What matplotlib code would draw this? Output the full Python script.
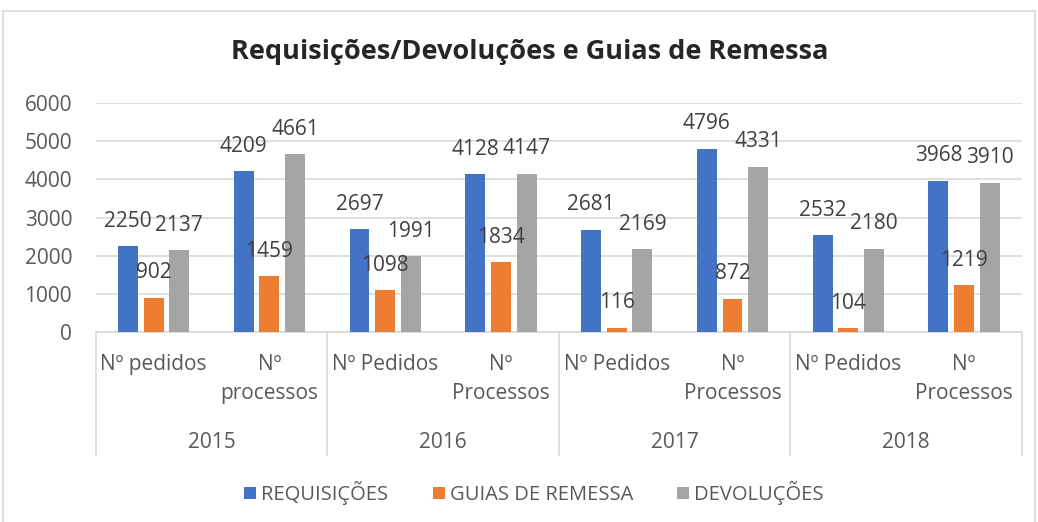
import numpy as np
import matplotlib
matplotlib.use('Agg')
import matplotlib.pyplot as plt
from matplotlib.patches import Rectangle

plt.rcParams['font.family'] = ['Open Sans', 'DejaVu Sans']

# dados
categorias = ['Nº pedidos', 'Nº\nprocessos', 'Nº Pedidos', 'Nº\nProcessos',
              'Nº Pedidos', 'Nº\nProcessos', 'Nº Pedidos', 'Nº\nProcessos']
anos = ['2015', '2016', '2017', '2018']
requisicoes = [2250, 4209, 2697, 4128, 2681, 4796, 2532, 3968]
guias = [902, 1459, 1098, 1834, 116, 872, 104, 1219]
devolucoes = [2137, 4661, 1991, 4147, 2169, 4331, 2180, 3910]
series = ['REQUISIÇÕES', 'GUIAS DE REMESSA', 'DEVOLUÇÕES']
cores = ['#4472C4', '#ED7D31', '#A5A5A5']

W, H = 1038, 522
fig = plt.figure(figsize=(W / 100, H / 100), dpi=100)
ax = fig.add_axes([95.7 / W, (H - 332) / H, (1022 - 95.7) / W, 229 / H])

x = np.arange(len(categorias))
larg = 0.172
desl = 0.222
valores = [requisicoes, guias, devolucoes]
for i in range(3):
    barras = ax.bar(x + (i - 1) * desl, valores[i], width=larg, color=cores[i], label=series[i], zorder=3)
    for b, v in zip(barras, valores[i]):
        ax.annotate(str(v), (b.get_x() + b.get_width() / 2, v), xytext=(0, 18),
                    textcoords='offset points', ha='center', va='center',
                    fontsize=15, color='#404040', zorder=4)

ax.set_xlim(-0.5, len(categorias) - 0.5)
ax.set_ylim(0, 6000)
ax.set_yticks(np.arange(0, 6001, 1000))
ax.tick_params(axis='y', length=0, pad=17, labelsize=15, labelcolor='#595959')
ax.set_xticks([])
ax.grid(axis='y', color='#D9D9D9', linewidth=1.2, zorder=0)
for s in ['top', 'right', 'left']:
    ax.spines[s].set_visible(False)
ax.spines['bottom'].set_color('#D9D9D9')
ax.spines['bottom'].set_linewidth(1.2)

# eixo de categorias em dois niveis
tr = ax.get_xaxis_transform()
for sep in np.arange(-0.5, len(categorias), 2):
    ax.plot([sep, sep], [0, -123 / 229], color='#D9D9D9', linewidth=1.2, transform=tr, clip_on=False)
for i, cat in enumerate(categorias):
    ax.annotate(cat, (i, 0), xycoords=tr, xytext=(0, -16), textcoords='offset points',
                ha='center', va='top', fontsize=15, color='#595959', linespacing=1.5)
for j, ano in enumerate(anos):
    ax.annotate(ano, (2 * j + 0.5, 0), xycoords=tr, xytext=(0, -79.5), textcoords='offset points',
                ha='center', va='center', fontsize=15, color='#595959')

fig.text(530 / W, 1 - 52 / H, 'Requisições/Devoluções e Guias de Remessa',
         ha='center', va='center', fontsize=19.5, fontweight='bold', color='#262626')

leg = fig.legend(loc='center', bbox_to_anchor=(534 / W, 1 - 493 / H), ncol=3, frameon=False,
                 fontsize=14.5, handlelength=0.6, handleheight=0.6, handletextpad=0.25,
                 columnspacing=2.2, labelcolor='#595959')

fig.patches.append(Rectangle((3 / W, -0.1), (W - 6) / W, (H - 11) / H + 0.1,
                             transform=fig.transFigure, fill=False, edgecolor='#D9D9D9', linewidth=1.2))

fig.savefig('out.png', dpi=100)
